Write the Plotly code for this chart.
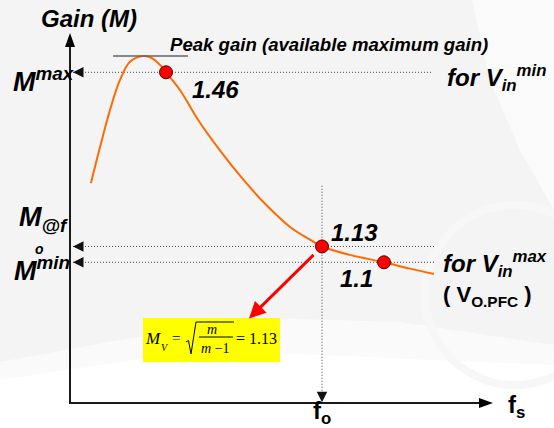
import plotly.graph_objects as go

W, H = 554, 428

# Normalised switching frequency (f / fo) and voltage gain along the curve
freq = [0.083, 0.119, 0.159, 0.198, 0.238, 0.290, 0.325, 0.365, 0.381,
        0.437, 0.504, 0.595, 0.687, 0.782, 0.873, 0.952, 1.000, 1.111,
        1.246, 1.349, 1.444]
gain = [1.250, 1.318, 1.389, 1.445, 1.480, 1.491, 1.487, 1.470, 1.460,
        1.426, 1.373, 1.312, 1.257, 1.207, 1.167, 1.143, 1.130, 1.114,
        1.100, 1.088, 1.078]

# Operating points marked on the curve
point_freq = [0.381, 1.000, 1.246]
point_gain = [1.46, 1.13, 1.10]
point_text = ["1.46", "1.13", "1.1"]
point_label_shift = [(49, -17), (32, 14), (-28, -16)]

# Gain levels projected onto the vertical axis
level_gain = [1.46, 1.13, 1.10]
level_names = ["M<sup>max</sup>", "M<sub>@f</sub>", "M<sup>min</sup>"]
level_name_left = [11, 17, 12]
level_name_shift = [-8, 27, -7]
level_start = 0.012
level_end = [1.437, 1.448, 1.448]

F_O = 1.0            # resonant frequency fo
AXIS_G = 0.833       # gain at the frequency axis
FO_LINE_TOP = 1.245  # upper end of the fo guide line
PEAK_SPAN = [0.171, 0.468]

X_RANGE = [-0.2778, 1.9206]
Y_RANGE = [0.786, 1.597]

SANS = "Liberation Sans, Arial, sans-serif"
SERIF = "Liberation Serif, Times New Roman, serif"
BI = dict(family=SANS, color="#000000", weight="bold", style="italic")
B = dict(family=SANS, color="#000000", weight="bold", style="normal")


def P(px, py):
    """Pixel position on the page -> paper coordinates."""
    return px / W, 1 - py / H


def path(points, close=True):
    s = "M " + " L ".join(f"{x / W:.5f},{1 - y / H:.5f}" for x, y in points)
    return s + (" Z" if close else "")


fig = go.Figure()

# dotted projection lines
for g, xe in zip(level_gain, level_end):
    fig.add_trace(go.Scatter(
        x=[level_start, xe], y=[g, g], mode="lines",
        line=dict(color="#444444", width=1, dash="1px,2px"),
        hoverinfo="skip"))
fig.add_trace(go.Scatter(
    x=[F_O, F_O], y=[FO_LINE_TOP, AXIS_G + 0.012], mode="lines",
    line=dict(color="#444444", width=1, dash="1px,2px"), hoverinfo="skip"))

# gain curve
fig.add_trace(go.Scatter(
    x=freq, y=gain, mode="lines", line=dict(color="#ff6a00", width=2, shape="spline"),
    hoverinfo="skip"))

# operating points
fig.add_trace(go.Scatter(
    x=point_freq, y=point_gain, mode="markers",
    marker=dict(size=13, color="#ff0000", line=dict(color="#4a0000", width=1)),
    hoverinfo="skip"))

shapes = []
# soft background sweep
shapes.append(dict(type="path", xref="paper", yref="paper", layer="below",
                   path=path([(0, 362), (120, 340), (260, 318), (400, 322), (554, 345),
                              (554, 428), (0, 428)]),
                   fillcolor="#fafafa", line=dict(width=0)))
shapes.append(dict(type="path", xref="paper", yref="paper", layer="below",
                   path=path([(0, 380), (200, 350), (554, 365), (554, 428), (0, 428)]),
                   fillcolor="#ffffff", line=dict(width=0)))
shapes.append(dict(type="path", xref="paper", yref="paper", layer="below",
                   path=path([(472, 0), (490, 80), (520, 150), (554, 210), (554, 0)]),
                   fillcolor="#fbfbfb", line=dict(width=0)))
shapes.append(dict(type="circle", xref="paper", yref="paper", layer="below",
                   x0=425 / W, x1=605 / W, y0=1 - 385 / H, y1=1 - 205 / H,
                   line=dict(color="#f7f7f7", width=8), fillcolor="rgba(0,0,0,0)"))

# axes with arrowheads
shapes.append(dict(type="line", xref="paper", yref="paper",
                   x0=70 / W, y0=1 - 403 / H, x1=70 / W, y1=1 - 45 / H,
                   line=dict(color="#1a1a1a", width=2)))
shapes.append(dict(type="path", xref="paper", yref="paper",
                   path=path([(65, 47), (75, 47), (70, 33)]),
                   fillcolor="#000000", line=dict(width=0)))
shapes.append(dict(type="line", xref="paper", yref="paper",
                   x0=69 / W, y0=1 - 403 / H, x1=481 / W, y1=1 - 403 / H,
                   line=dict(color="#1a1a1a", width=2)))
shapes.append(dict(type="path", xref="paper", yref="paper",
                   path=path([(479, 398), (479, 408), (493, 403)]),
                   fillcolor="#000000", line=dict(width=0)))

# peak gain tangent
shapes.append(dict(type="line", xref="x", yref="y",
                   x0=PEAK_SPAN[0], x1=PEAK_SPAN[1], y0=max(gain), y1=max(gain),
                   line=dict(color="#666666", width=1.5)))

# formula box
shapes.append(dict(type="rect", xref="paper", yref="paper",
                   x0=143 / W, x1=280 / W, y0=1 - 362 / H, y1=1 - 318 / H,
                   fillcolor="#ffff00", line=dict(width=0)))
shapes.append(dict(type="path", xref="paper", yref="paper",
                   path=path([(186, 342), (188.5, 340.5), (191, 354), (196, 322), (234, 322)],
                             close=False),
                   line=dict(color="#000000", width=1)))
shapes.append(dict(type="line", xref="paper", yref="paper",
                   x0=199 / W, x1=233 / W, y0=1 - 337 / H, y1=1 - 337 / H,
                   line=dict(color="#000000", width=1)))

ann = []


def text(px, py, s, size, font=None, xanchor="center", yanchor="middle"):
    x, y = P(px, py)
    f = dict(BI if font is None else font)
    f["size"] = size
    ann.append(dict(x=x, y=y, xref="paper", yref="paper", text=s, showarrow=False,
                    font=f, xanchor=xanchor, yanchor=yanchor))


text(89, 19, "Gain (M)", 24)
text(329, 44, "Peak gain (available maximum gain)", 18.6)
text(445, 78, "for V<sub>in</sub><sup>min</sup>", 24, xanchor="left")
text(441, 264, "for V<sub>in</sub><sup>max</sup>", 24, xanchor="left")
text(441, 296, "( V<sub>O.PFC</sub> )", 22, font=B, xanchor="left")
text(506, 406, "f<sub>s</sub>", 24, font=B, xanchor="left")
text(322, 412, "f<sub>o</sub>", 24, font=B)

# left-hand level names
for g, s, px, dy in zip(level_gain, level_names, level_name_left, level_name_shift):
    ann.append(dict(x=P(px, 0)[0], y=g, xref="paper", yref="y", text=s, showarrow=False,
                    font=dict(BI, size=27), xanchor="left", yanchor="middle", yshift=dy))
ann.append(dict(x=P(39, 0)[0], y=level_gain[2], xref="paper", yref="y", text="o",
                showarrow=False, font=dict(BI, size=14), xanchor="center",
                yanchor="middle", yshift=13))

# arrowheads at the axis end of the projection lines
for g in level_gain:
    ann.append(dict(x=level_start, y=g, xref="x", yref="y", text="", showarrow=True,
                    ax=10, ay=0, arrowhead=2, arrowsize=1.5, arrowwidth=1.4,
                    arrowcolor="#111111"))
ann.append(dict(x=F_O, y=AXIS_G, xref="x", yref="y", text="", showarrow=True,
                ax=0, ay=-10, arrowhead=2, arrowsize=1.5, arrowwidth=1.4,
                arrowcolor="#111111", standoff=1))

# value labels on the operating points
for fx, g, s, (dx, dy) in zip(point_freq, point_gain, point_text, point_label_shift):
    ann.append(dict(x=fx, y=g, xref="x", yref="y", text=s, showarrow=False,
                    font=dict(BI, size=24), xshift=dx, yshift=dy))

# red pointer from fo operating point to the formula
ann.append(dict(x=F_O, y=point_gain[1], xref="x", yref="y", text="", showarrow=True,
                xshift=-73, yshift=-72, ax=66, ay=-65, arrowhead=2, arrowsize=1.1,
                arrowwidth=3, arrowcolor="#ff0000"))

# formula Mv = sqrt(m / (m - 1)) = 1.13
SER = dict(family=SERIF, color="#000000")
text(153, 338, "<i>M</i>", 17, font=SER)
text(165, 347, "<i>V</i>", 10, font=SER)
text(176, 338, "=", 15, font=SER)
text(212, 329, "<i>m</i>", 14, font=SER)
text(215, 348, "<i>m</i> \u22121", 14, font=SER)
text(256, 338, "= 1.13", 16, font=SER)

fig.update_layout(
    width=W, height=H, margin=dict(l=0, r=0, t=0, b=0),
    paper_bgcolor="#f4f4f4", plot_bgcolor="rgba(0,0,0,0)",
    showlegend=False,
    xaxis=dict(range=X_RANGE, visible=False, fixedrange=True),
    yaxis=dict(range=Y_RANGE, visible=False, fixedrange=True),
    shapes=shapes, annotations=ann,
)

fig.write_html("out.html")
